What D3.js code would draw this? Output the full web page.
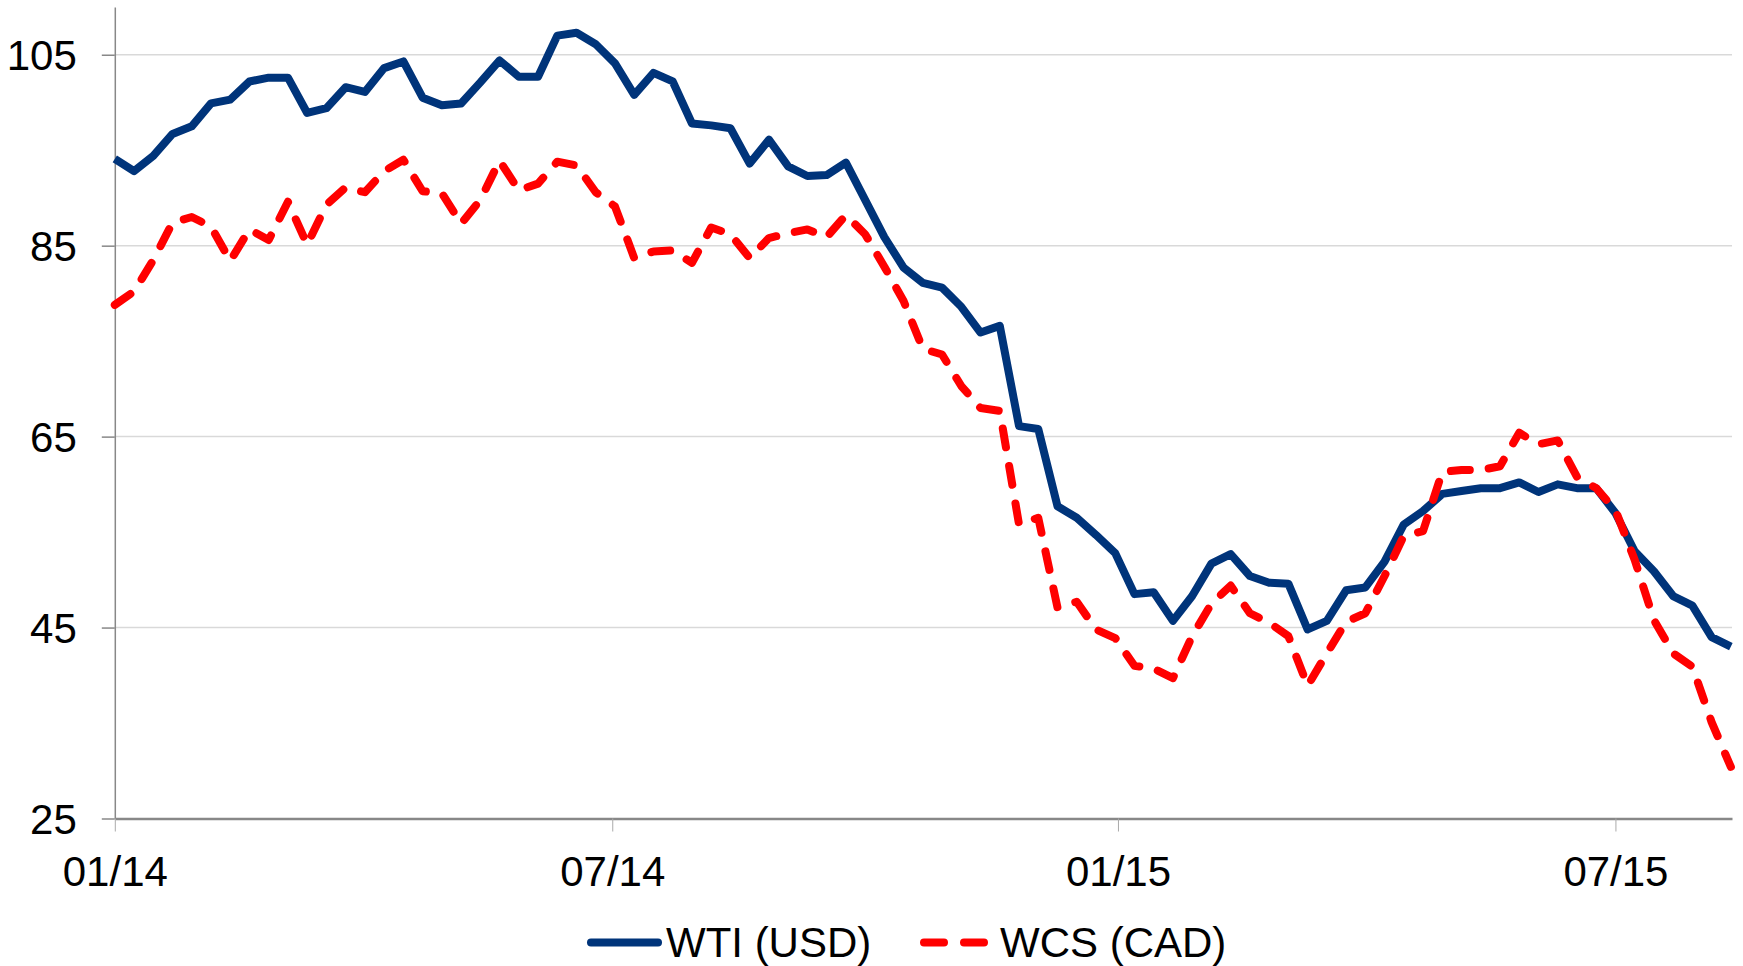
<!DOCTYPE html>
<html>
<head>
<meta charset="utf-8">
<script src="https://cdn.jsdelivr.net/npm/d3@7"></script>
<style>
  body { margin: 0; background: #fff; }
  text { font-family: "Liberation Sans", Arial, sans-serif; }
</style>
</head>
<body>
<div id="wrapper"></div>
<script>
// weekly prices, first week starting 01/01/2014
var startDate = new Date(2014, 0, 1);
var wti = [
  94.1, 92.8, 94.4, 96.7, 97.5, 99.9, 100.3, 102.2, 102.6, 102.6,
  98.9, 99.4, 101.6, 101.1, 103.6, 104.3, 100.5, 99.7, 99.9, 102.1,
  104.4, 102.7, 102.7, 107.0, 107.3, 106.1, 104.1, 100.8, 103.1, 102.2,
  97.8, 97.6, 97.3, 93.6, 96.1, 93.3, 92.3, 92.4, 93.7, 89.8,
  85.9, 82.7, 81.1, 80.6, 78.6, 75.9, 76.6, 66.1, 65.8, 57.7,
  56.5, 54.7, 52.8, 48.5, 48.7, 45.7, 48.3, 51.7, 52.7, 50.4,
  49.7, 49.6, 44.8, 45.7, 48.9, 49.2, 51.9, 55.8, 57.2, 59.0,
  59.3, 59.6, 59.6, 60.2, 59.2, 60.0, 59.6, 59.6, 57.0, 53.0,
  50.9, 48.3, 47.3, 44.0, 43.0
];
var wcs = [
  78.8, 80.2, 83.5, 87.4, 88.0, 87.0, 83.4, 86.7, 85.6, 89.6,
  85.1, 89.3, 91.1, 90.6, 92.8, 94.0, 90.7, 90.5, 87.3, 89.8,
  93.9, 90.8, 91.5, 93.8, 93.4, 90.6, 89.1, 83.7, 84.4, 84.5,
  83.2, 86.9, 86.2, 83.7, 85.8, 86.3, 86.7, 85.9, 88.2, 86.2,
  82.8, 79.2, 74.2, 73.6, 70.3, 68.0, 67.7, 55.8, 56.5, 47.1,
  47.7, 44.8, 43.9, 41.0, 40.7, 39.7, 44.1, 47.5, 49.4, 46.5,
  45.5, 44.1, 38.9, 42.3, 45.6, 46.5, 50.4, 54.6, 55.1, 61.3,
  61.5, 61.5, 61.9, 65.4, 64.2, 64.6, 60.8, 59.6, 57.3, 52.1,
  45.8, 42.3, 40.9, 35.1, 30.4
];
var yTicks = [25, 45, 65, 85, 105];
var xTickDates = [new Date(2014, 0, 1), new Date(2014, 6, 1), new Date(2015, 0, 1), new Date(2015, 6, 1)];
var seriesNames = ["WTI (USD)", "WCS (CAD)"];
var seriesColors = ["#00347a", "#ff0000"];

var dates = wti.map(function (d, i) { return d3.timeDay.offset(startDate, 7 * i); });

var dimensions = {
  width: 1743,
  height: 966,
  margin: { top: 7, right: 11, bottom: 147.5, left: 114.8 }
};
dimensions.boundedWidth = dimensions.width - dimensions.margin.left - dimensions.margin.right;
dimensions.boundedHeight = dimensions.height - dimensions.margin.top - dimensions.margin.bottom;

var wrapper = d3.select('#wrapper')
  .append('svg')
  .attr('width', dimensions.width)
  .attr('height', dimensions.height);

var bounds = wrapper.append('g')
  .attr('transform', 'translate(' + dimensions.margin.left + ',' + dimensions.margin.top + ')');

var xScale = d3.scaleTime()
  .domain([startDate, d3.timeHour.offset(startDate, Math.round(588.4 * 24))])
  .range([0, dimensions.boundedWidth]);

var yScale = d3.scaleLinear()
  .domain([25, 110])
  .range([dimensions.boundedHeight, 0]);

// gridlines
bounds.append('g')
  .selectAll('line')
  .data(yTicks.slice(1))
  .enter()
  .append('line')
  .attr('x1', 0)
  .attr('x2', dimensions.boundedWidth)
  .attr('y1', function (d) { return yScale(d); })
  .attr('y2', function (d) { return yScale(d); })
  .attr('stroke', '#d9d9d9')
  .attr('stroke-width', 1.5);

// y axis
var yAxis = bounds.append('g')
  .call(d3.axisLeft(yScale).tickValues(yTicks).tickSize(13).tickPadding(25).tickSizeOuter(0));
yAxis.select('.domain').attr('stroke', '#888').attr('stroke-width', 1.5);
yAxis.selectAll('.tick line').attr('stroke', '#888').attr('stroke-width', 1.5);
yAxis.selectAll('.tick text')
  .attr('fill', '#000')
  .attr('dy', '0.36em')
  .style('font-size', '42px');

// x axis
var xAxis = bounds.append('g')
  .attr('transform', 'translate(0,' + dimensions.boundedHeight + ')')
  .call(d3.axisBottom(xScale).tickValues(xTickDates).tickFormat(d3.timeFormat('%m/%y')).tickSize(13).tickPadding(0).tickSizeOuter(0));
xAxis.select('.domain').attr('stroke', '#888').attr('stroke-width', 2.5);
xAxis.selectAll('.tick line').attr('stroke', '#aaa').attr('stroke-width', 1);
xAxis.selectAll('.tick text')
  .attr('fill', '#000')
  .attr('y', 67.5)
  .attr('dy', 0)
  .style('font-size', '42px');

// lines
var lineGenerator = function (values) {
  return d3.line()
    .x(function (d, i) { return xScale(dates[i]); })
    .y(function (d) { return yScale(d); })(values);
};

bounds.append('path')
  .attr('d', lineGenerator(wti))
  .attr('fill', 'none')
  .attr('stroke', seriesColors[0])
  .attr('stroke-width', 8)
  .attr('stroke-linejoin', 'round');

bounds.append('path')
  .attr('d', lineGenerator(wcs))
  .attr('fill', 'none')
  .attr('stroke', seriesColors[1])
  .attr('stroke-width', 8)
  .attr('stroke-linejoin', 'round')
  .attr('stroke-linecap', 'round')
  .attr('stroke-dasharray', '19,19');

// legend
var legendItems = [
  { x1: 591, x2: 658, tx: 666, dash: null },
  { x1: 924, x2: 984, tx: 1000, dash: '20,20' }
];
var legend = wrapper.append('g');
legendItems.forEach(function (item, i) {
  legend.append('line')
    .attr('x1', item.x1)
    .attr('x2', item.x2)
    .attr('y1', 942.5)
    .attr('y2', 942.5)
    .attr('stroke', seriesColors[i])
    .attr('stroke-width', 8)
    .attr('stroke-linecap', 'round')
    .attr('stroke-dasharray', item.dash);
  legend.append('text')
    .attr('x', item.tx)
    .attr('y', 957)
    .attr('fill', '#000')
    .style('font-size', '42px')
    .text(seriesNames[i]);
});
</script>
</body>
</html>
